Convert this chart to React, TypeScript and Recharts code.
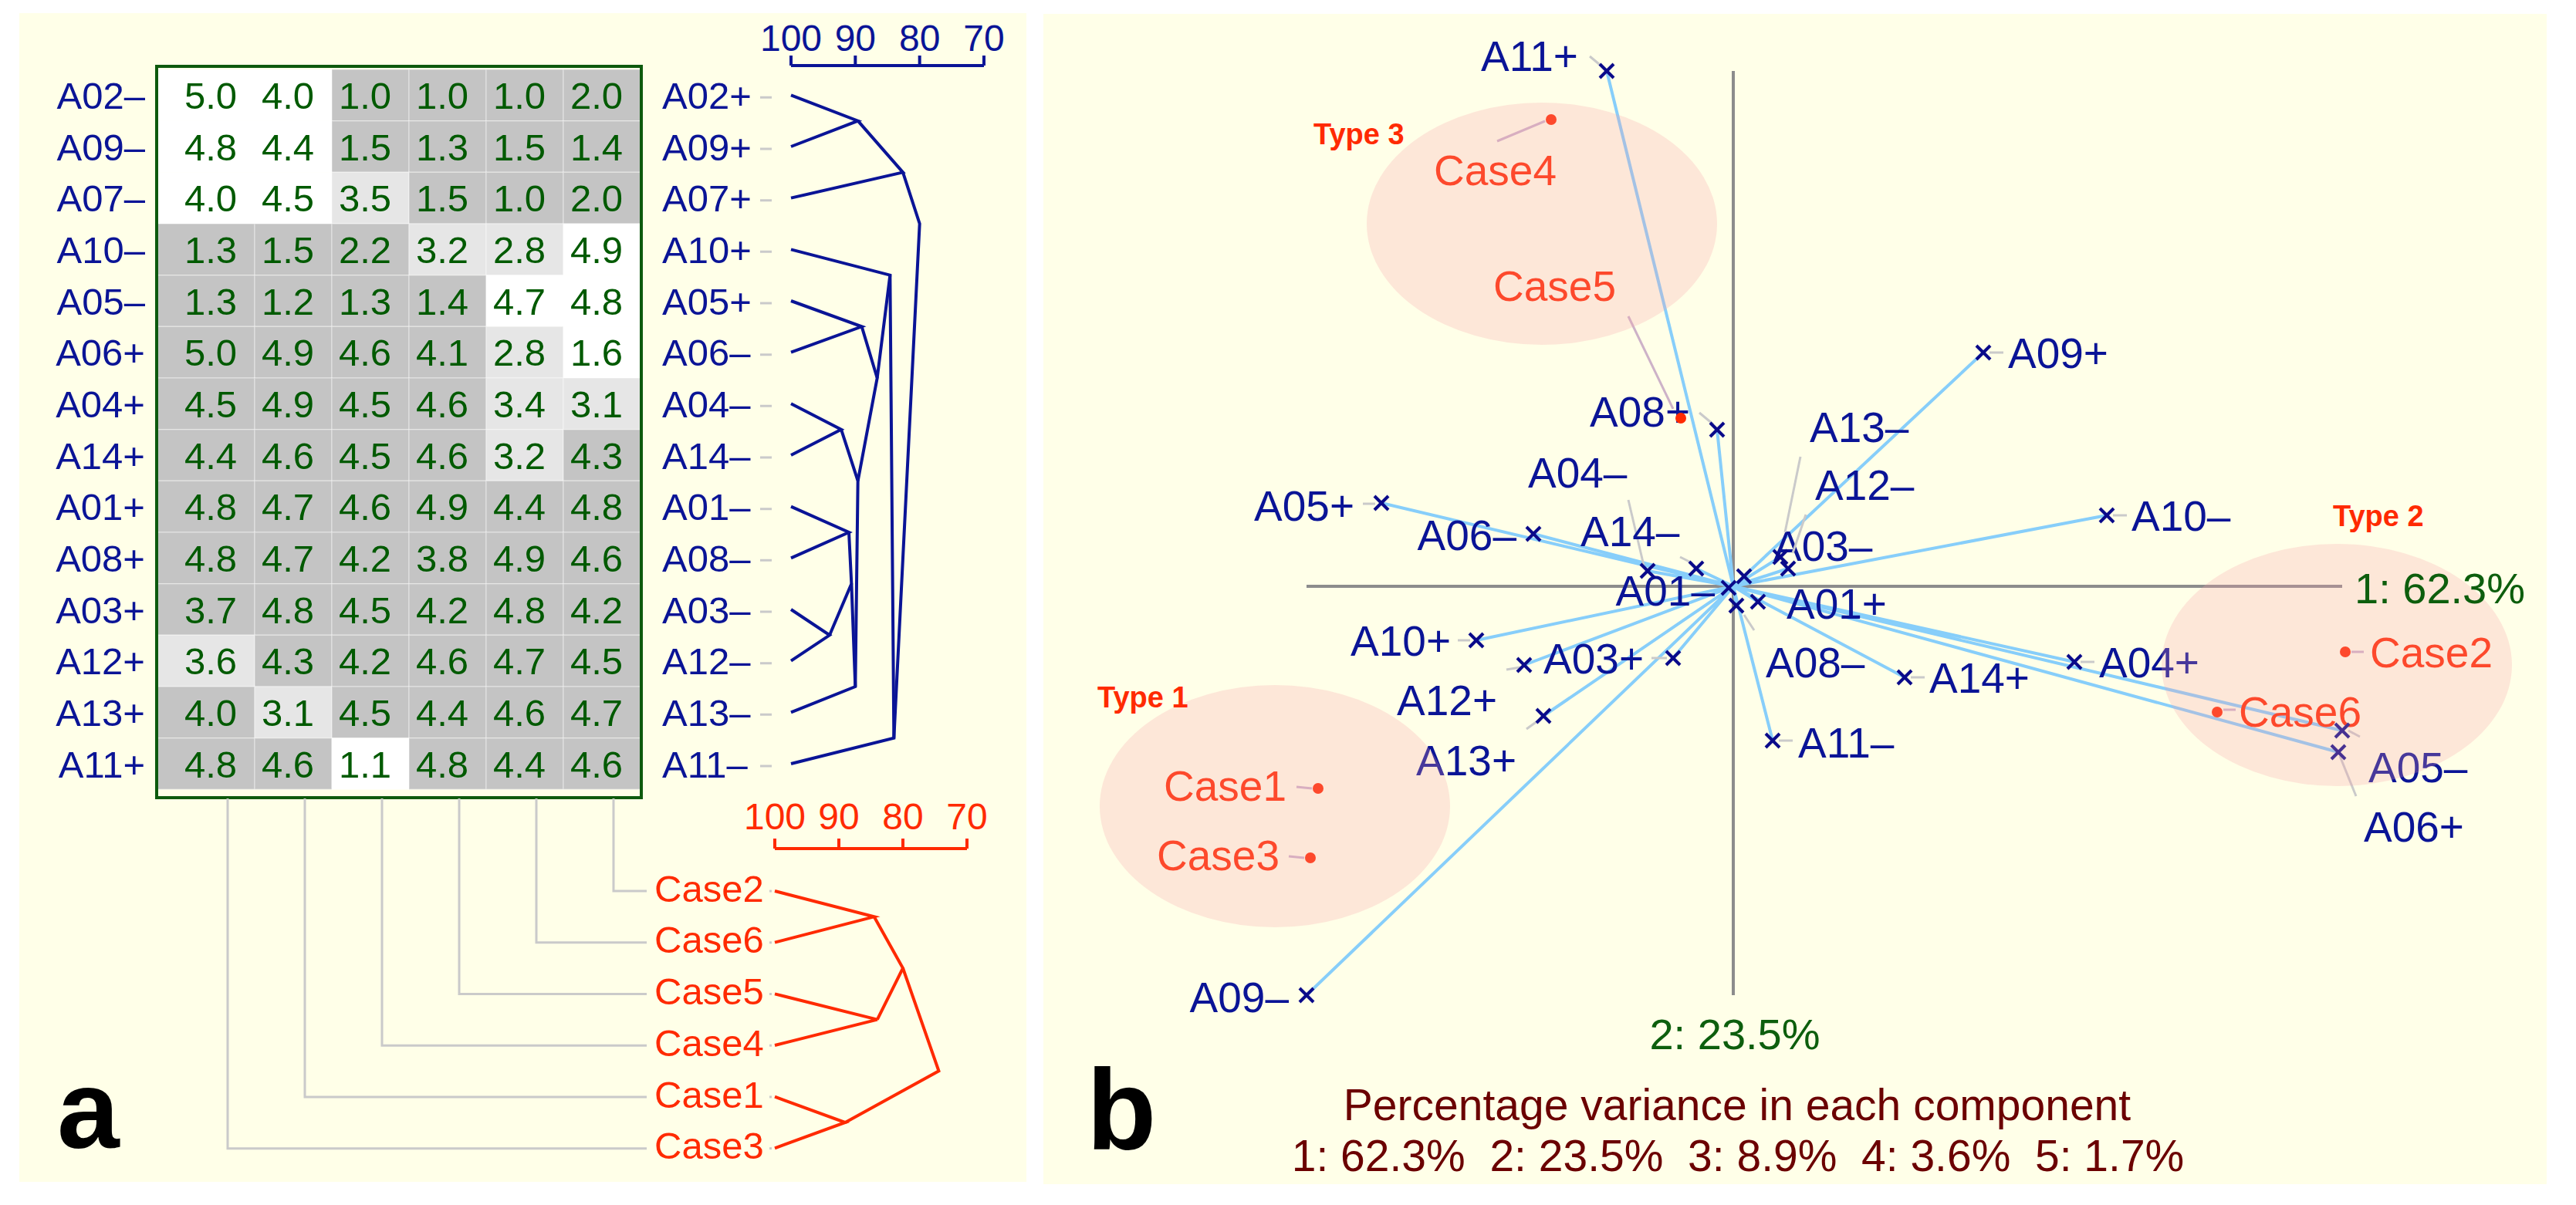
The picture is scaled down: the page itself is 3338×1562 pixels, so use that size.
import React from 'react';
import { ReferenceArea, Scatter, ScatterChart, XAxis, YAxis } from 'recharts';

const FONT = '"Liberation Sans", Arial, Helvetica, sans-serif';
const NAVY = '#0a1496';
const RED = '#ff2a00';
const GREEN = '#005a00';
const LINK_GREY = '#cacaca';
const PANEL_BG = '#ffffe8';

// ---------- panel a: repertory grid ----------
const LEFT_POLES = ['A02–', 'A09–', 'A07–', 'A10–', 'A05–', 'A06+', 'A04+', 'A14+', 'A01+', 'A08+', 'A03+', 'A12+', 'A13+', 'A11+'];
const RIGHT_POLES = ['A02+', 'A09+', 'A07+', 'A10+', 'A05+', 'A06–', 'A04–', 'A14–', 'A01–', 'A08–', 'A03–', 'A12–', 'A13–', 'A11–'];
const CASE_COLUMNS = ['Case3', 'Case1', 'Case4', 'Case5', 'Case6', 'Case2'];
const CASE_ORDER = ['Case2', 'Case6', 'Case5', 'Case4', 'Case1', 'Case3'];
const RATINGS = [
  [5.0, 4.0, 1.0, 1.0, 1.0, 2.0],
  [4.8, 4.4, 1.5, 1.3, 1.5, 1.4],
  [4.0, 4.5, 3.5, 1.5, 1.0, 2.0],
  [1.3, 1.5, 2.2, 3.2, 2.8, 4.9],
  [1.3, 1.2, 1.3, 1.4, 4.7, 4.8],
  [5.0, 4.9, 4.6, 4.1, 2.8, 1.6],
  [4.5, 4.9, 4.5, 4.6, 3.4, 3.1],
  [4.4, 4.6, 4.5, 4.6, 3.2, 4.3],
  [4.8, 4.7, 4.6, 4.9, 4.4, 4.8],
  [4.8, 4.7, 4.2, 3.8, 4.9, 4.6],
  [3.7, 4.8, 4.5, 4.2, 4.8, 4.2],
  [3.6, 4.3, 4.2, 4.6, 4.7, 4.5],
  [4.0, 3.1, 4.5, 4.4, 4.6, 4.7],
  [4.8, 4.6, 1.1, 4.8, 4.4, 4.6],
];

// merges: similarity (%), position in row units, children = leaf row index or merge id
type Merge = { id: string; sim: number; pos: number; left: number | string; right: number | string };
const CONSTRUCT_MERGES: Merge[] = [
  { id: 'n1', sim: 89.6, pos: 1, left: 0, right: 1 },
  { id: 'n2', sim: 82.6, pos: 2, left: 'n1', right: 2 },
  { id: 'i1', sim: 89.0, pos: 5, left: 4, right: 5 },
  { id: 'h1', sim: 92.2, pos: 7, left: 6, right: 7 },
  { id: 'f1', sim: 91.0, pos: 9, left: 8, right: 9 },
  { id: 'f2', sim: 94.0, pos: 11, left: 10, right: 11 },
  { id: 'g', sim: 90.6, pos: 10, left: 'f1', right: 'f2' },
  { id: 'h2', sim: 90.0, pos: 12, left: 'g', right: 12 },
  { id: 'i2', sim: 89.6, pos: 8, left: 'h1', right: 'h2' },
  { id: 'j', sim: 86.6, pos: 6, left: 'i1', right: 'i2' },
  { id: 'k', sim: 84.6, pos: 4, left: 3, right: 'j' },
  { id: 'm', sim: 84.0, pos: 13, left: 'k', right: 13 },
  { id: 'r', sim: 80.0, pos: 3, left: 'n2', right: 'm' },
];
const CASE_MERGES: Merge[] = [
  { id: 'c1', sim: 84.5, pos: 1, left: 0, right: 1 },
  { id: 'c2', sim: 84.0, pos: 3, left: 2, right: 3 },
  { id: 'c3', sim: 80.0, pos: 2, left: 'c1', right: 'c2' },
  { id: 'c4', sim: 89.0, pos: 5, left: 4, right: 5 },
  { id: 'c5', sim: 74.4, pos: 4, left: 'c3', right: 'c4' },
];
const SIM_TICKS = [100, 90, 80, 70];

// ---------- panel b: principal components ----------
const VARIANCE = [62.3, 23.5, 8.9, 3.6, 1.7];
const CONSTRUCT_SCORES = [
  { name: 'A11+', pc1: -0.82, pc2: 3.34 },
  { name: 'A09+', pc1: 1.62, pc2: 1.515 },
  { name: 'A08+', pc1: -0.105, pc2: 1.015 },
  { name: 'A05+', pc1: -2.28, pc2: 0.54 },
  { name: 'A06–', pc1: -1.295, pc2: 0.34 },
  { name: 'A04–', pc1: -0.555, pc2: 0.1 },
  { name: 'A14–', pc1: -0.24, pc2: 0.115 },
  { name: 'A01–', pc1: -0.03, pc2: -0.01 },
  { name: 'A03–', pc1: 0.07, pc2: 0.065 },
  { name: 'A08–', pc1: 0.02, pc2: -0.125 },
  { name: 'A01+', pc1: 0.16, pc2: -0.1 },
  { name: 'A13–', pc1: 0.305, pc2: 0.19 },
  { name: 'A12–', pc1: 0.355, pc2: 0.115 },
  { name: 'A10–', pc1: 2.42, pc2: 0.46 },
  { name: 'A10+', pc1: -1.665, pc2: -0.35 },
  { name: 'A03+', pc1: -0.39, pc2: -0.465 },
  { name: 'A12+', pc1: -1.355, pc2: -0.51 },
  { name: 'A13+', pc1: -1.23, pc2: -0.84 },
  { name: 'A14+', pc1: 1.11, pc2: -0.59 },
  { name: 'A04+', pc1: 2.21, pc2: -0.49 },
  { name: 'A11–', pc1: 0.255, pc2: -1.0 },
  { name: 'A09–', pc1: -2.765, pc2: -2.65 },
  { name: 'A05–', pc1: 3.945, pc2: -0.935 },
  { name: 'A06+', pc1: 3.92, pc2: -1.075 },
];
const CASE_SCORES = [
  { name: 'Case4', pc1: -1.18, pc2: 3.025 },
  { name: 'Case5', pc1: -0.34, pc2: 1.09 },
  { name: 'Case2', pc1: 3.965, pc2: -0.425 },
  { name: 'Case6', pc1: 3.135, pc2: -0.815 },
  { name: 'Case1', pc1: -2.69, pc2: -1.31 },
  { name: 'Case3', pc1: -2.74, pc2: -1.76 },
];
const CASE_TYPES = [
  { name: 'Type 3', pc1: -1.24, pc2: 2.35 },
  { name: 'Type 2', pc1: 3.91, pc2: -0.51 },
  { name: 'Type 1', pc1: -2.97, pc2: -1.425 },
];

// label placement in px relative to the point
type Placement = { dx: number; dy: number; anchor: 'start' | 'end' | 'middle'; leader?: number[] };
const LABEL_PLACEMENT: Record<string, Placement> = {
  'A11+': { dx: -37, dy: -20, anchor: 'end', leader: [-22, -19, -4, -4] },
  'A09+': { dx: 32, dy: 0, anchor: 'start', leader: [8, 0, 26, 0] },
  'A08+': { dx: -35, dy: -24, anchor: 'end', leader: [-23, -22, -5, -7] },
  'A05+': { dx: -35, dy: 3, anchor: 'end', leader: [-24, 1, -8, 1] },
  'A06–': { dx: -22, dy: 1, anchor: 'end' },
  'A04–': { dx: -155, dy: -128, anchor: 'start', leader: [-25, -92, -5, -7] },
  'A14–': { dx: -150, dy: -49, anchor: 'start', leader: [-21, -15, -5, -7] },
  'A01–': { dx: -18, dy: 3, anchor: 'end' },
  'A03–': { dx: 38, dy: -40, anchor: 'start' },
  'A08–': { dx: 38, dy: 73, anchor: 'start', leader: [10, 12, 23, 32] },
  'A01+': { dx: 37, dy: 2, anchor: 'start' },
  'A13–': { dx: 38, dy: -169, anchor: 'start', leader: [26, -130, 6, -32] },
  'A12–': { dx: 35, dy: -109, anchor: 'start', leader: [23, -70, 6, -20] },
  'A10–': { dx: 32, dy: 0, anchor: 'start', leader: [8, 0, 26, 0] },
  'A10+': { dx: -33, dy: 0, anchor: 'end', leader: [-24, 0, -8, 0] },
  'A03+': { dx: -38, dy: 0, anchor: 'end', leader: [-28, 0, -8, 0] },
  'A12+': { dx: -35, dy: 45, anchor: 'end', leader: [-23, 6, -5, 3] },
  'A13+': { dx: -35, dy: 57, anchor: 'end', leader: [-22, 17, -4, 4] },
  'A14+': { dx: 32, dy: 0, anchor: 'start', leader: [8, 0, 26, 0] },
  'A04+': { dx: 32, dy: 0, anchor: 'start', leader: [8, 0, 26, 0] },
  'A11–': { dx: 33, dy: 2, anchor: 'start', leader: [8, 0, 26, 0] },
  'A09–': { dx: -23, dy: 2, anchor: 'end' },
  'A05–': { dx: 34, dy: 47, anchor: 'start', leader: [8, 0, 23, 8] },
  'A06+': { dx: 33, dy: 96, anchor: 'start', leader: [2, 5, 23, 57] },
  Case4: { dx: -152, dy: 65, anchor: 'start', leader: [-70, 28, -8, 2] },
  Case5: { dx: -243, dy: -172, anchor: 'start', leader: [-68, -132, -10, -12] },
  Case2: { dx: 32, dy: 0, anchor: 'start', leader: [8, 0, 24, 0] },
  Case6: { dx: 28, dy: -1, anchor: 'start', leader: [8, -3, 24, -3] },
  Case1: { dx: -41, dy: -4, anchor: 'end', leader: [-28, -2, -8, 0] },
  Case3: { dx: -40, dy: -4, anchor: 'end', leader: [-28, -2, -8, 0] },
  'Type 3': { dx: -296, dy: -117, anchor: 'start' },
  'Type 2': { dx: -5, dy: -194, anchor: 'start' },
  'Type 1': { dx: -230, dy: -142, anchor: 'start' },
};

const GRID_X_MIN = -0.26;
const CONNECT_X_MAX = 6.08;
const CONNECT_Y_MIN = -1.3;
const COLUMN_LINK_OFFSET = 0.65;

const rowTicks = (n: number) => Array.from({ length: n }, (_, i) => i + 0.5);

const shadeFor = (value: number, pole: string) => {
  const score = pole.endsWith('+') ? 6 - value : value;
  if (score >= 4) return '#ffffff';
  if (score >= 2.4) return '#e6e6e6';
  return '#c4c4c4';
};

const mergePaths = (merges: Merge[]) => {
  const byId = new Map(merges.map((m) => [m.id, m]));
  const point = (ref: number | string) => {
    if (typeof ref === 'number') return { sim: 100, pos: ref + 0.5 };
    const m = byId.get(ref)!;
    return { sim: m.sim, pos: m.pos };
  };
  return merges.map((m) => ({ id: m.id, points: [point(m.left), { sim: m.sim, pos: m.pos }, point(m.right)] }));
};

const Hidden = () => <g />;

function RatingGrid() {
  const cells = RATINGS.flatMap((row, r) =>
    row.map((value, c) => ({ key: `${r}-${c}`, r, c, col: c + 0.5, row: r + 0.5, value })),
  );

  return (
    <div style={{ position: 'absolute', left: 0, top: 0 }}>
      <ScatterChart width={1000} height={1040} margin={{ top: 90, right: 0, bottom: 16.67, left: 0 }}>
        <XAxis type="number" dataKey="col" domain={[GRID_X_MIN, 6]} hide />
        <YAxis
          yAxisId="left"
          type="number"
          dataKey="row"
          domain={[0, 14]}
          reversed
          width={204}
          ticks={rowTicks(14)}
          interval={0}
          axisLine={false}
          tickLine={false}
          tickSize={0}
          tickMargin={0}
          tick={(p: any) => (
            <text x={p.x - 16} y={p.y} dy="0.36em" textAnchor="end" fill={NAVY} fontSize={49} fontFamily={FONT}>
              {LEFT_POLES[Math.floor(p.payload.value)]}
            </text>
          )}
        />
        <YAxis
          yAxisId="right"
          orientation="right"
          type="number"
          dataKey="row"
          domain={[0, 14]}
          reversed
          width={170}
          ticks={rowTicks(14)}
          interval={0}
          axisLine={false}
          tickLine={false}
          tickSize={0}
          tickMargin={0}
          tick={(p: any) => (
            <g>
              <text x={p.x + 28} y={p.y} dy="0.36em" textAnchor="start" fill={NAVY} fontSize={49} fontFamily={FONT}>
                {RIGHT_POLES[Math.floor(p.payload.value)]}
              </text>
              <line x1={p.x + 155} y1={p.y + 3} x2={p.x + 193} y2={p.y + 3} stroke={LINK_GREY} strokeWidth={3} />
            </g>
          )}
        />
        {cells.map((cell) => (
          <ReferenceArea
            key={cell.key}
            yAxisId="left"
            x1={cell.c === 0 ? GRID_X_MIN : cell.c}
            x2={cell.c + 1}
            y1={cell.r}
            y2={cell.r + 1}
            fill={shadeFor(cell.value, LEFT_POLES[cell.r])}
            fillOpacity={1}
            stroke="rgba(255,255,255,0.35)"
            strokeWidth={1.5}
          />
        ))}
        <Scatter
          yAxisId="left"
          data={cells}
          isAnimationActive={false}
          shape={(p: any) => (
            <text x={p.cx - 7} y={p.cy} dy="0.36em" textAnchor="middle" fill={GREEN} fontSize={49} fontFamily={FONT}>
              {p.payload.value.toFixed(1)}
            </text>
          )}
        />
        <Scatter yAxisId="right" data={cells} isAnimationActive={false} shape={Hidden} />
      </ScatterChart>
    </div>
  );
}

function CaseLinks() {
  const links = CASE_COLUMNS.map((name, c) => {
    const rowPos = CASE_ORDER.indexOf(name) + 0.5;
    const x = c + COLUMN_LINK_OFFSET;
    return {
      name,
      points: [
        { col: x, pos: CONNECT_Y_MIN },
        { col: x, pos: rowPos },
        { col: CONNECT_X_MAX, pos: rowPos },
      ],
    };
  });

  return (
    <div style={{ position: 'absolute', left: 0, top: 1035 }}>
      <ScatterChart width={1000} height={487} margin={{ top: 0, right: 0, bottom: 0, left: 204 }}>
        <XAxis type="number" dataKey="col" domain={[GRID_X_MIN, CONNECT_X_MAX]} hide />
        <YAxis
          orientation="right"
          type="number"
          dataKey="pos"
          domain={[CONNECT_Y_MIN, 6]}
          reversed
          width={162}
          ticks={rowTicks(6)}
          interval={0}
          axisLine={false}
          tickLine={false}
          tickSize={0}
          tickMargin={0}
          tick={(p: any) => (
            <g>
              <text x={p.x + 10} y={p.y - 4} dy="0.36em" textAnchor="start" fill={RED} fontSize={49} fontFamily={FONT}>
                {CASE_ORDER[Math.floor(p.payload.value)]}
              </text>
              <line x1={p.x + 159} y1={p.y} x2={p.x + 167} y2={p.y} stroke={LINK_GREY} strokeWidth={3} />
            </g>
          )}
        />
        {links.map((link) => (
          <Scatter
            key={link.name}
            data={link.points}
            line={{ stroke: LINK_GREY, strokeWidth: 3 }}
            lineType="joint"
            shape={Hidden}
            isAnimationActive={false}
          />
        ))}
      </ScatterChart>
    </div>
  );
}

type DendroProps = {
  merges: Merge[];
  color: string;
  left: number;
  top: number;
  width: number;
  height: number;
  margin: { top: number; right: number; bottom: number; left: number };
  yDomain: [number, number];
  tickMargin: number;
};

function Dendrogram({ merges, color, left, top, width, height, margin, yDomain, tickMargin }: DendroProps) {
  return (
    <div style={{ position: 'absolute', left, top }}>
      <ScatterChart width={width} height={height} margin={margin}>
        <XAxis
          type="number"
          dataKey="sim"
          orientation="top"
          domain={[70, 100]}
          reversed
          ticks={SIM_TICKS}
          interval={0}
          height={60}
          axisLine={{ stroke: color, strokeWidth: 4 }}
          tickLine={{ stroke: color, strokeWidth: 4 }}
          tickSize={13}
          tickMargin={tickMargin}
          tick={{ fill: color, fontSize: 48, fontFamily: FONT }}
        />
        <YAxis type="number" dataKey="pos" domain={yDomain} reversed hide />
        {mergePaths(merges).map((m) => (
          <Scatter
            key={m.id}
            data={m.points}
            line={{ stroke: color, strokeWidth: 4 }}
            lineType="joint"
            shape={Hidden}
            isAnimationActive={false}
          />
        ))}
      </ScatterChart>
    </div>
  );
}

const PointLabel = ({ cx, cy, payload, color, leaderColor, fontSize = 55, bold = false }: any) => {
  const p = LABEL_PLACEMENT[payload.name];
  return (
    <g>
      {p.leader && (
        <line
          x1={cx + p.leader[0]}
          y1={cy + p.leader[1]}
          x2={cx + p.leader[2]}
          y2={cy + p.leader[3]}
          stroke={leaderColor}
          strokeWidth={3}
        />
      )}
      <text
        x={cx + p.dx}
        y={cy + p.dy}
        dy="0.36em"
        textAnchor={p.anchor}
        fill={color}
        fontSize={fontSize}
        fontWeight={bold ? 'bold' : 'normal'}
        fontFamily={FONT}
      >
        {payload.name}
      </text>
    </g>
  );
};

const Cross = ({ cx, cy }: any) => (
  <g stroke="#0a0a8a" strokeWidth={4}>
    <line x1={cx - 9} y1={cy - 9} x2={cx + 9} y2={cy + 9} />
    <line x1={cx - 9} y1={cy + 9} x2={cx + 9} y2={cy - 9} />
  </g>
);

function Biplot() {
  const xs = CONSTRUCT_SCORES.map((s) => s.pc1);
  const ys = CONSTRUCT_SCORES.map((s) => s.pc2);
  const hAxis = [
    { pc1: Math.min(...xs), pc2: 0 },
    { pc1: Math.max(...xs), pc2: 0 },
  ];
  const vAxis = [
    { pc1: 0, pc2: Math.max(...ys) },
    { pc1: 0, pc2: Math.min(...ys) },
  ];
  const rays = CONSTRUCT_SCORES.flatMap((s) => [{ pc1: 0, pc2: 0 }, s]);

  return (
    <div style={{ position: 'absolute', left: 1352, top: 18 }}>
      <ScatterChart width={1948} height={1517} margin={{ top: 0, right: 0, bottom: 0, left: 0 }}>
        <XAxis type="number" dataKey="pc1" domain={[-4.47, 5.27]} hide />
        <YAxis type="number" dataKey="pc2" domain={[-3.875, 3.71]} hide />
        <Scatter data={hAxis} line={{ stroke: '#8c8c8c', strokeWidth: 4 }} lineType="joint" shape={Hidden} isAnimationActive={false} />
        <Scatter data={vAxis} line={{ stroke: '#8c8c8c', strokeWidth: 4 }} lineType="joint" shape={Hidden} isAnimationActive={false} />
        <Scatter data={rays} line={{ stroke: '#87cefa', strokeWidth: 4 }} lineType="joint" shape={Hidden} isAnimationActive={false} />
        <Scatter
          data={CONSTRUCT_SCORES}
          isAnimationActive={false}
          shape={(p: any) => <PointLabel {...p} color={NAVY} leaderColor={LINK_GREY} />}
        />
        <Scatter
          data={CASE_SCORES}
          isAnimationActive={false}
          shape={(p: any) => <PointLabel {...p} color={RED} leaderColor="#cdb2c8" />}
        />
        <Scatter data={CONSTRUCT_SCORES} isAnimationActive={false} shape={Cross} />
        <Scatter
          data={CASE_SCORES}
          isAnimationActive={false}
          shape={(p: any) => <circle cx={p.cx} cy={p.cy} r={7} fill={RED} />}
        />
        <Scatter
          data={CASE_TYPES}
          isAnimationActive={false}
          shape={(p: any) => (
            <g>
              <ellipse cx={p.cx} cy={p.cy} rx={227} ry={157} fill="rgba(247,163,170,0.26)" />
              <PointLabel {...p} color={RED} fontSize={38} bold />
            </g>
          )}
        />
        <Scatter
          data={[hAxis[1]]}
          isAnimationActive={false}
          shape={(p: any) => (
            <text x={p.cx + 16} y={p.cy + 2} dy="0.36em" fill="#0d5e0d" fontSize={56} fontFamily={FONT}>
              {`1: ${VARIANCE[0]}%`}
            </text>
          )}
        />
        <Scatter
          data={[vAxis[1]]}
          isAnimationActive={false}
          shape={(p: any) => (
            <text x={p.cx + 2} y={p.cy + 50} dy="0.36em" textAnchor="middle" fill="#0d5e0d" fontSize={56} fontFamily={FONT}>
              {`2: ${VARIANCE[1]}%`}
            </text>
          )}
        />
      </ScatterChart>
    </div>
  );
}

export default function App() {
  const varianceLine = VARIANCE.map((v, i) => `${i + 1}: ${v}%`).join('\u00a0\u00a0');

  return (
    <div
      style={{
        position: 'absolute',
        left: 0,
        top: 0,
        width: 3338,
        height: 1562,
        background: '#ffffff',
        fontFamily: FONT,
        overflow: 'hidden',
      }}
    >
      <div style={{ position: 'absolute', left: 25, top: 17, width: 1305, height: 1515, background: PANEL_BG }} />
      <div style={{ position: 'absolute', left: 1352, top: 18, width: 1948, height: 1517, background: PANEL_BG }} />

      <RatingGrid />
      <div
        style={{
          position: 'absolute',
          left: 201,
          top: 84,
          width: 632,
          height: 952,
          border: '4px solid #0d5a0d',
          boxSizing: 'border-box',
        }}
      />
      <CaseLinks />
      <Dendrogram
        merges={CONSTRUCT_MERGES}
        color={NAVY}
        left={945}
        top={0}
        width={380}
        height={1040}
        margin={{ top: 25, right: 50, bottom: 16.67, left: 80 }}
        yDomain={[-0.075, 14]}
        tickMargin={6}
      />
      <Dendrogram
        merges={CASE_MERGES}
        color={RED}
        left={924}
        top={1020}
        width={380}
        height={510}
        margin={{ top: 20, right: 51, bottom: 8.33, left: 80 }}
        yDomain={[-0.325, 6]}
        tickMargin={12}
      />

      <Biplot />

      <svg width={3338} height={1562} style={{ position: 'absolute', left: 0, top: 0, pointerEvents: 'none' }}>
        <text x={74} y={1488} fontSize={145} fontWeight="bold" fontFamily={FONT} fill="#000">
          a
        </text>
        <text x={1408} y={1490} fontSize={148} fontWeight="bold" fontFamily={FONT} fill="#000">
          b
        </text>
        <text x={2251} y={1452} textAnchor="middle" fontSize={57} fontFamily={FONT} fill="#6b0000">
          Percentage variance in each component
        </text>
        <text x={2252} y={1518} textAnchor="middle" fontSize={57} fontFamily={FONT} fill="#6b0000">
          {varianceLine}
        </text>
      </svg>
    </div>
  );
}
